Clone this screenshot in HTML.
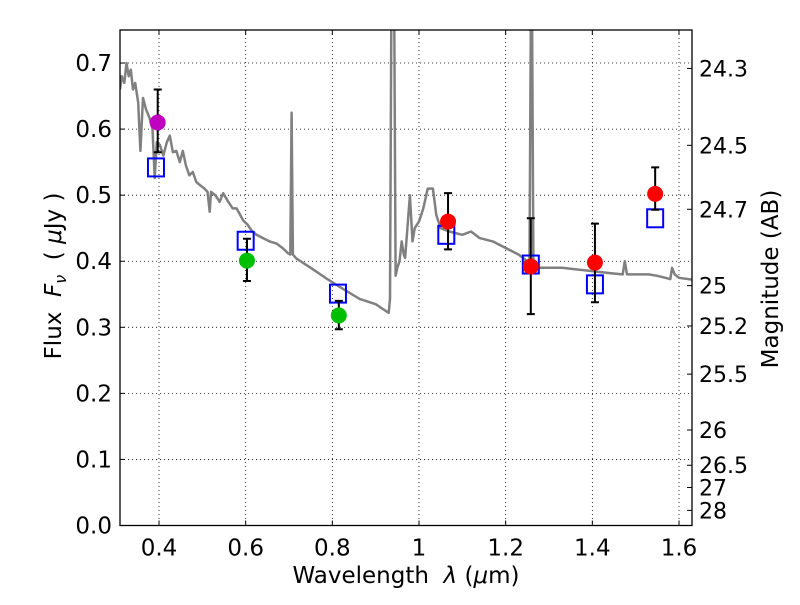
<!DOCTYPE html>
<html><head><meta charset="utf-8"><style>
body{margin:0;background:#fff;}
svg text{font-family:"DejaVu Sans","Liberation Sans",sans-serif;}
.pre{white-space:pre;}
</style></head><body>
<svg id="chart" width="800" height="600" xmlns="http://www.w3.org/2000/svg"></svg>
<script>
const xTicks=[0.4,0.6,0.8,1.0,1.2,1.4,1.6];
const xTickLabels=["0.4","0.6","0.8","1","1.2","1.4","1.6"];
const yTicks=[0,0.1,0.2,0.3,0.4,0.5,0.6,0.7];
const yTickLabels=["0.0","0.1","0.2","0.3","0.4","0.5","0.6","0.7"];
const magTicks=[24.3,24.5,24.7,25,25.2,25.5,26,26.5,27,28];
const magTickLabels=["24.3","24.5","24.7","25","25.2","25.5","26","26.5","27","28"];
const specLam=[0.31,0.314,0.32,0.325,0.33,0.335,0.34,0.345,0.352,0.357,0.363,0.37,0.378,0.385,0.39,0.395,0.402,0.41,0.418,0.425,0.432,0.44,0.448,0.455,0.462,0.47,0.478,0.486,0.495,0.505,0.512,0.517,0.52,0.53,0.54,0.548,0.56,0.57,0.579,0.594,0.605,0.615,0.625,0.64,0.655,0.671,0.685,0.698,0.703,0.706,0.709,0.717,0.75,0.786,0.82,0.863,0.9,0.925,0.93,0.933,0.936,0.938,0.943,0.946,0.95,0.955,0.96,0.965,0.968,0.972,0.979,0.985,0.99,1.0,1.01,1.02,1.032,1.04,1.05,1.07,1.1,1.12,1.14,1.17,1.2,1.23,1.25,1.255,1.258,1.261,1.264,1.27,1.3,1.33,1.36,1.4,1.44,1.47,1.475,1.48,1.5,1.53,1.55,1.58,1.584,1.59,1.6,1.63];
const specFlux=[0.66,0.68,0.67,0.70,0.68,0.69,0.66,0.67,0.64,0.567,0.647,0.63,0.617,0.60,0.526,0.58,0.576,0.56,0.58,0.59,0.565,0.567,0.55,0.567,0.545,0.53,0.535,0.52,0.515,0.51,0.505,0.475,0.505,0.50,0.49,0.503,0.49,0.48,0.48,0.462,0.455,0.445,0.44,0.435,0.43,0.427,0.42,0.412,0.41,0.625,0.41,0.404,0.39,0.374,0.36,0.343,0.335,0.324,0.322,0.343,0.76,0.76,0.76,0.378,0.39,0.40,0.43,0.41,0.405,0.44,0.50,0.43,0.45,0.46,0.48,0.51,0.51,0.47,0.45,0.445,0.44,0.445,0.435,0.43,0.42,0.41,0.40,0.40,0.76,0.76,0.39,0.39,0.39,0.39,0.388,0.385,0.382,0.38,0.40,0.38,0.38,0.38,0.378,0.373,0.39,0.38,0.375,0.372];
const ptLam=[0.397,0.603,0.815,1.067,1.258,1.406,1.545];
const ptFlux=[0.61,0.401,0.318,0.46,0.392,0.398,0.502];
const ptErrLo=[0.565,0.37,0.297,0.418,0.32,0.338,0.478];
const ptErrHi=[0.66,0.434,0.34,0.503,0.465,0.457,0.542];
const ptColor=["#bf00bf","#00bf00","#00bf00","#ff0000","#ff0000","#ff0000","#ff0000"];
const sqLam=[0.393,0.6,0.813,1.063,1.258,1.406,1.545];
const sqFlux=[0.542,0.431,0.351,0.44,0.395,0.365,0.465];

const L=120,R=692,T=30,B=525.5,X0=0.31,X1=1.63,Y0=0,Y1=0.75;
const sx=v=>L+(v-X0)/(X1-X0)*(R-L);
const sy=v=>B-(v-Y0)/(Y1-Y0)*(B-T);
const svg=document.getElementById('chart');
const NS='http://www.w3.org/2000/svg';
function mk(tag,attrs,parent){const e=document.createElementNS(NS,tag);for(const k in attrs)e.setAttribute(k,attrs[k]);(parent||svg).appendChild(e);return e;}
const clip=mk('clipPath',{id:'c'});mk('rect',{x:L,y:T,width:R-L,height:B-T},clip);

xTicks.forEach((v,i)=>{
  const g=mk('line',{x1:sx(v),x2:sx(v),y1:T,y2:B,stroke:'#000','stroke-width':0.8,'stroke-dasharray':'1,3'});
  
  
  mk('line',{x1:sx(v),x2:sx(v),y1:B,y2:B-5,stroke:'#000'});
  mk('line',{x1:sx(v),x2:sx(v),y1:T,y2:T+5,stroke:'#000'});
  const t=mk('text',{x:sx(v),y:B+30,'text-anchor':'middle','font-size':23});
  t.textContent=xTickLabels[i];
  
  
});
yTicks.forEach((v,i)=>{
  const g=mk('line',{x1:L,x2:R,y1:sy(v),y2:sy(v),stroke:'#000','stroke-width':0.8,'stroke-dasharray':'1,3'});
  
  
  mk('line',{x1:L,x2:L+5,y1:sy(v),y2:sy(v),stroke:'#000'});
  const t=mk('text',{x:L-8,y:sy(v)+8,'text-anchor':'end','font-size':23});
  t.textContent=yTickLabels[i];
  
  
});
magTicks.forEach((m,i)=>{
  const f=Math.pow(10,(23.9-m)/2.5);
  mk('line',{x1:R,x2:R-5,y1:sy(f),y2:sy(f),stroke:'#000'});
  const t=mk('text',{x:R+7,y:sy(f)+8,'font-size':22});
  t.textContent=magTickLabels[i];
  
  
});

const d=specLam.map((l,i)=>(i?'L':'M')+sx(l).toFixed(1)+','+sy(specFlux[i]).toFixed(1)).join('');
const sp=mk('path',{d:d,fill:'none',stroke:'#808080','stroke-width':2.5,'clip-path':'url(#c)','stroke-linejoin':'round'});



sqLam.forEach((l,i)=>{
  const r=mk('rect',{x:sx(l)-8,y:sy(sqFlux[i])-9,width:16,height:18,fill:'none',stroke:'#0000ff','stroke-width':2});
  
  
});
ptLam.forEach((l,i)=>{
  const x=sx(l);
  const e=mk('path',{d:`M${x},${sy(ptErrLo[i])}L${x},${sy(ptErrHi[i])}M${x-4},${sy(ptErrLo[i])}L${x+4},${sy(ptErrLo[i])}M${x-4},${sy(ptErrHi[i])}L${x+4},${sy(ptErrHi[i])}`,stroke:'#000','stroke-width':2,fill:'none'});
  
  
  const c=mk('circle',{cx:x,cy:sy(ptFlux[i]),r:8,fill:ptColor[i]});
  
  
});
const fr=mk('rect',{x:L,y:T,width:R-L,height:B-T,fill:'none',stroke:'#000','stroke-width':1.3});


</script>
<svg style="position:absolute;left:0;top:0" width="800" height="600" xmlns="http://www.w3.org/2000/svg">
<text class="pre" x="406" y="583" text-anchor="middle" font-size="23">Wavelength  <tspan font-style="italic">λ</tspan> (<tspan font-style="italic">μ</tspan>m)</text>
<text class="pre" transform="translate(61,276) rotate(-90)" text-anchor="middle" font-size="23">Flux  <tspan font-style="italic">F</tspan><tspan font-style="italic" font-size="16" dy="5">ν</tspan><tspan dy="-5">  ( </tspan><tspan font-style="italic">μ</tspan>Jy )</text>
<text transform="translate(778,279) rotate(-90)" text-anchor="middle" font-size="23">Magnitude (AB)</text>
</svg>
</body></html>
